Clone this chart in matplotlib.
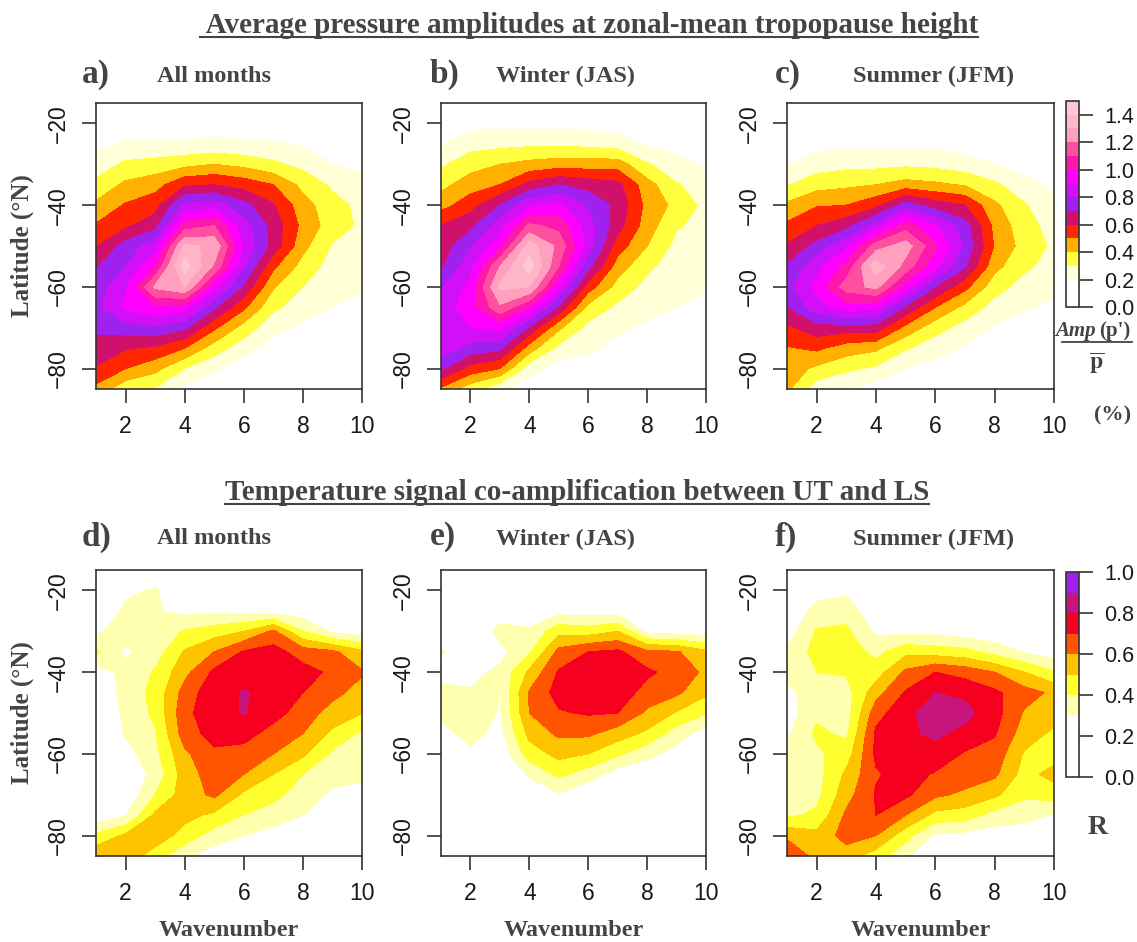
import numpy as np
import matplotlib
matplotlib.use("Agg")
import matplotlib.pyplot as plt
from matplotlib.lines import Line2D

plt.rcParams['font.family'] = ['Liberation Sans', 'DejaVu Sans']
plt.rcParams['mathtext.fontset'] = 'stix'

# grid of the fields: columns are wavenumbers, rows are latitudes
wavenumber = [1, 2, 3, 4, 5, 6, 7, 8, 9, 10]
latitude = [-15, -20, -25, -30, -35, -40, -45, -50, -55, -60, -65, -70, -75, -80, -85]

# pressure amplitude (%)
amp_all = [
    [0.10, 0.10, 0.10, 0.10, 0.10, 0.10, 0.10, 0.09, 0.08, 0.07],
    [0.13, 0.16, 0.16, 0.16, 0.16, 0.16, 0.15, 0.14, 0.12, 0.10],
    [0.17, 0.21, 0.21, 0.21, 0.22, 0.21, 0.21, 0.19, 0.16, 0.14],
    [0.24, 0.32, 0.34, 0.37, 0.40, 0.37, 0.32, 0.27, 0.20, 0.18],
    [0.33, 0.42, 0.46, 0.58, 0.60, 0.56, 0.50, 0.37, 0.28, 0.23],
    [0.42, 0.51, 0.56, 0.82, 0.85, 0.73, 0.61, 0.44, 0.34, 0.27],
    [0.51, 0.58, 0.66, 1.04, 1.10, 0.84, 0.66, 0.47, 0.35, 0.28],
    [0.59, 0.74, 0.85, 1.32, 1.28, 0.88, 0.66, 0.43, 0.29, 0.26],
    [0.69, 0.80, 1.00, 1.45, 1.18, 0.81, 0.52, 0.36, 0.26, 0.24],
    [0.74, 0.88, 1.22, 1.30, 0.93, 0.68, 0.41, 0.30, 0.24, 0.21],
    [0.77, 0.92, 0.98, 0.95, 0.72, 0.52, 0.32, 0.25, 0.20, 0.17],
    [0.72, 0.75, 0.78, 0.72, 0.52, 0.36, 0.23, 0.18, 0.15, 0.12],
    [0.66, 0.61, 0.58, 0.50, 0.35, 0.24, 0.16, 0.12, 0.10, 0.08],
    [0.59, 0.50, 0.43, 0.30, 0.22, 0.14, 0.10, 0.08, 0.07, 0.06],
    [0.47, 0.33, 0.29, 0.17, 0.13, 0.08, 0.06, 0.05, 0.05, 0.04],
]
amp_winter = [
    [0.10, 0.10, 0.10, 0.10, 0.10, 0.10, 0.09, 0.09, 0.08, 0.07],
    [0.15, 0.17, 0.17, 0.17, 0.17, 0.16, 0.15, 0.14, 0.12, 0.10],
    [0.19, 0.26, 0.27, 0.28, 0.28, 0.27, 0.25, 0.19, 0.17, 0.14],
    [0.28, 0.36, 0.40, 0.43, 0.45, 0.45, 0.45, 0.31, 0.23, 0.19],
    [0.37, 0.45, 0.50, 0.63, 0.70, 0.66, 0.63, 0.44, 0.31, 0.24],
    [0.46, 0.56, 0.70, 0.88, 0.92, 0.78, 0.67, 0.47, 0.37, 0.27],
    [0.60, 0.67, 0.85, 1.12, 1.07, 0.84, 0.64, 0.45, 0.31, 0.27],
    [0.64, 0.79, 0.97, 1.35, 1.17, 0.86, 0.55, 0.40, 0.27, 0.25],
    [0.68, 0.86, 1.20, 1.45, 1.10, 0.73, 0.45, 0.32, 0.25, 0.23],
    [0.79, 0.93, 1.32, 1.30, 0.92, 0.55, 0.36, 0.27, 0.23, 0.21],
    [0.85, 0.95, 1.18, 1.00, 0.68, 0.37, 0.28, 0.23, 0.20, 0.17],
    [0.88, 0.90, 0.93, 0.68, 0.42, 0.27, 0.22, 0.18, 0.15, 0.13],
    [0.86, 0.76, 0.72, 0.45, 0.27, 0.22, 0.17, 0.13, 0.11, 0.09],
    [0.72, 0.56, 0.50, 0.24, 0.15, 0.15, 0.11, 0.09, 0.08, 0.06],
    [0.48, 0.34, 0.22, 0.14, 0.09, 0.09, 0.07, 0.06, 0.05, 0.04],
]
amp_summer = [
    [0.08, 0.08, 0.08, 0.08, 0.08, 0.08, 0.07, 0.07, 0.06, 0.05],
    [0.11, 0.12, 0.12, 0.12, 0.12, 0.12, 0.11, 0.11, 0.09, 0.08],
    [0.15, 0.17, 0.17, 0.17, 0.17, 0.17, 0.16, 0.15, 0.13, 0.11],
    [0.19, 0.25, 0.27, 0.27, 0.28, 0.27, 0.24, 0.20, 0.17, 0.15],
    [0.29, 0.36, 0.38, 0.40, 0.44, 0.42, 0.39, 0.32, 0.23, 0.18],
    [0.42, 0.49, 0.50, 0.57, 0.75, 0.65, 0.60, 0.42, 0.31, 0.22],
    [0.52, 0.60, 0.66, 0.84, 1.05, 0.91, 0.74, 0.47, 0.34, 0.26],
    [0.61, 0.73, 0.88, 1.15, 1.25, 1.02, 0.78, 0.49, 0.36, 0.28],
    [0.71, 0.86, 1.03, 1.36, 1.16, 0.93, 0.71, 0.43, 0.32, 0.26],
    [0.76, 0.93, 1.15, 1.23, 0.95, 0.70, 0.53, 0.34, 0.26, 0.22],
    [0.69, 0.86, 0.95, 0.92, 0.68, 0.50, 0.37, 0.26, 0.21, 0.18],
    [0.58, 0.66, 0.65, 0.65, 0.47, 0.34, 0.26, 0.19, 0.16, 0.13],
    [0.49, 0.52, 0.45, 0.42, 0.31, 0.24, 0.19, 0.14, 0.11, 0.09],
    [0.45, 0.38, 0.32, 0.28, 0.20, 0.16, 0.13, 0.10, 0.08, 0.06],
    [0.42, 0.24, 0.20, 0.15, 0.12, 0.10, 0.08, 0.07, 0.05, 0.04],
]

# UT/LS temperature correlation R
r_all = [
    [0.10, 0.20, 0.22, 0.12, 0.12, 0.10, 0.10, 0.10, 0.09, 0.08],
    [0.15, 0.28, 0.31, 0.22, 0.20, 0.18, 0.18, 0.17, 0.15, 0.13],
    [0.22, 0.32, 0.31, 0.27, 0.28, 0.27, 0.26, 0.24, 0.22, 0.18],
    [0.28, 0.35, 0.33, 0.41, 0.45, 0.50, 0.62, 0.40, 0.28, 0.24],
    [0.42, 0.28, 0.35, 0.51, 0.60, 0.71, 0.74, 0.65, 0.62, 0.52],
    [0.25, 0.33, 0.41, 0.57, 0.72, 0.77, 0.78, 0.74, 0.68, 0.61],
    [0.20, 0.34, 0.43, 0.64, 0.77, 0.805, 0.78, 0.70, 0.63, 0.56],
    [0.18, 0.33, 0.42, 0.67, 0.77, 0.805, 0.74, 0.65, 0.56, 0.50],
    [0.17, 0.31, 0.39, 0.65, 0.74, 0.74, 0.66, 0.60, 0.48, 0.38],
    [0.17, 0.26, 0.37, 0.58, 0.68, 0.66, 0.60, 0.52, 0.38, 0.34],
    [0.18, 0.22, 0.33, 0.55, 0.65, 0.60, 0.50, 0.40, 0.34, 0.32],
    [0.20, 0.22, 0.40, 0.55, 0.62, 0.48, 0.43, 0.35, 0.28, 0.27],
    [0.22, 0.29, 0.52, 0.53, 0.48, 0.40, 0.35, 0.30, 0.22, 0.20],
    [0.42, 0.52, 0.56, 0.46, 0.35, 0.30, 0.26, 0.24, 0.17, 0.15],
    [0.58, 0.56, 0.45, 0.32, 0.25, 0.20, 0.18, 0.17, 0.12, 0.10],
]
r_winter = [
    [0.05, 0.05, 0.06, 0.06, 0.06, 0.06, 0.06, 0.05, 0.05, 0.04],
    [0.08, 0.09, 0.12, 0.14, 0.15, 0.15, 0.15, 0.12, 0.10, 0.09],
    [0.12, 0.14, 0.25, 0.26, 0.26, 0.25, 0.25, 0.20, 0.18, 0.16],
    [0.18, 0.20, 0.33, 0.31, 0.47, 0.45, 0.50, 0.27, 0.25, 0.24],
    [0.31, 0.24, 0.27, 0.38, 0.63, 0.70, 0.72, 0.62, 0.61, 0.52],
    [0.26, 0.27, 0.32, 0.52, 0.71, 0.76, 0.77, 0.72, 0.66, 0.58],
    [0.33, 0.31, 0.30, 0.61, 0.74, 0.76, 0.76, 0.66, 0.62, 0.52],
    [0.32, 0.36, 0.29, 0.60, 0.69, 0.71, 0.70, 0.58, 0.49, 0.41],
    [0.27, 0.33, 0.27, 0.53, 0.62, 0.62, 0.55, 0.48, 0.35, 0.25],
    [0.22, 0.28, 0.22, 0.45, 0.53, 0.50, 0.42, 0.33, 0.26, 0.20],
    [0.17, 0.22, 0.17, 0.32, 0.42, 0.35, 0.25, 0.22, 0.19, 0.15],
    [0.13, 0.17, 0.12, 0.20, 0.29, 0.22, 0.18, 0.15, 0.14, 0.11],
    [0.10, 0.12, 0.09, 0.13, 0.18, 0.14, 0.12, 0.10, 0.10, 0.08],
    [0.08, 0.09, 0.07, 0.09, 0.12, 0.10, 0.09, 0.08, 0.07, 0.06],
    [0.06, 0.07, 0.05, 0.06, 0.08, 0.07, 0.06, 0.05, 0.05, 0.04],
]
r_summer = [
    [0.10, 0.15, 0.20, 0.10, 0.08, 0.08, 0.07, 0.07, 0.06, 0.05],
    [0.15, 0.25, 0.28, 0.15, 0.12, 0.12, 0.11, 0.10, 0.09, 0.08],
    [0.20, 0.34, 0.36, 0.22, 0.18, 0.18, 0.16, 0.15, 0.13, 0.12],
    [0.25, 0.41, 0.42, 0.28, 0.27, 0.27, 0.24, 0.23, 0.20, 0.17],
    [0.31, 0.44, 0.45, 0.37, 0.47, 0.45, 0.43, 0.36, 0.29, 0.24],
    [0.33, 0.40, 0.41, 0.45, 0.62, 0.70, 0.66, 0.60, 0.50, 0.41],
    [0.27, 0.36, 0.36, 0.56, 0.71, 0.80, 0.78, 0.72, 0.64, 0.58],
    [0.25, 0.38, 0.35, 0.66, 0.77, 0.86, 0.83, 0.74, 0.59, 0.55],
    [0.28, 0.42, 0.38, 0.72, 0.78, 0.82, 0.77, 0.71, 0.55, 0.48],
    [0.33, 0.38, 0.45, 0.72, 0.76, 0.76, 0.69, 0.66, 0.49, 0.45],
    [0.35, 0.36, 0.52, 0.69, 0.74, 0.69, 0.65, 0.62, 0.46, 0.54],
    [0.35, 0.37, 0.56, 0.71, 0.72, 0.62, 0.58, 0.52, 0.42, 0.44],
    [0.38, 0.42, 0.62, 0.70, 0.60, 0.47, 0.45, 0.36, 0.34, 0.29],
    [0.58, 0.53, 0.64, 0.60, 0.44, 0.28, 0.27, 0.25, 0.24, 0.20],
    [0.68, 0.57, 0.55, 0.45, 0.32, 0.18, 0.17, 0.16, 0.16, 0.14],
]

amp_levels = [0.0, 0.2, 0.3, 0.4, 0.5, 0.6, 0.7, 0.8, 0.9, 1.0, 1.1, 1.2, 1.3, 1.4, 1.5]
amp_colors = ['#FFFFFF', '#FFFFD8', '#FFFF40', '#FFB000', '#FF2600', '#D0106A', '#A020F0',
              '#D210F8', '#FF00FF', '#FF18B0', '#FF50A0', '#FFA0BE', '#FFB6C8', '#FFC8D2']
amp_ticks = [0.0, 0.2, 0.4, 0.6, 0.8, 1.0, 1.2, 1.4]
r_levels = [0.0, 0.3, 0.4, 0.5, 0.6, 0.7, 0.8, 0.9, 1.0]
r_colors = ['#FFFFFF', '#FFFFB0', '#FFFF30', '#FFC400', '#FF5500', '#F5001E', '#C8157E', '#A020F0']
r_ticks = [0.0, 0.2, 0.4, 0.6, 0.8, 1.0]

W, H = 1137, 942
fig = plt.figure(figsize=(W / 100, H / 100), dpi=100)
ink = '#333333'
grey = '#444444'
serif = 'Liberation Serif'


def axes_px(left, top, right, bottom):
    return fig.add_axes([left / W, 1 - bottom / H, (right - left) / W, (bottom - top) / H])


def text_px(x, y, s, **kw):
    kw.setdefault('family', serif)
    kw.setdefault('weight', 'bold')
    kw.setdefault('color', grey)
    return fig.text(x / W, 1 - y / H, s, **kw)


def draw_panel(box, grid, levels, colors):
    ax = axes_px(*box)
    cs = ax.contourf(wavenumber, latitude, np.array(grid), levels=levels, colors=colors)
    ax.set_xlim(1, 10)
    ax.set_ylim(-85, -15)
    ax.set_xticks([2, 4, 6, 8, 10])
    ax.set_yticks([-20, -40, -60, -80])
    ax.set_yticklabels(['\u221220', '\u221240', '\u221260', '\u221280'], rotation=90, va='center')
    ax.tick_params(direction='out', length=10, width=1.2, color=ink,
                   labelcolor='#1a1a1a', labelsize=16.5, pad=9)
    for sp in ax.spines.values():
        sp.set_color(ink)
        sp.set_linewidth(1.2)
    return cs


def draw_colorbar(cs, box, ticks):
    cax = axes_px(*box)
    cb = fig.colorbar(cs, cax=cax, spacing='proportional', ticks=ticks)
    cb.ax.set_yticklabels(['%.1f' % t for t in ticks])
    cb.ax.tick_params(direction='out', length=10, width=1.2, color=ink,
                      labelcolor='#1a1a1a', labelsize=15.5, pad=8)
    cb.outline.set_edgecolor(ink)
    cb.outline.set_linewidth(1.2)


cols = [(96, 362), (441, 706), (787, 1054)]
top_row = (103, 389)
bottom_row = (570, 856)

amp_grids = [amp_all, amp_winter, amp_summer]
r_grids = [r_all, r_winter, r_summer]
for (l, r), g in zip(cols, amp_grids):
    cs_amp = draw_panel((l, top_row[0], r, top_row[1]), g, amp_levels, amp_colors)
for (l, r), g in zip(cols, r_grids):
    cs_r = draw_panel((l, bottom_row[0], r, bottom_row[1]), g, r_levels, r_colors)

draw_colorbar(cs_amp, (1066, 101, 1079, 307), amp_ticks)
draw_colorbar(cs_r, (1066, 572, 1079, 777), r_ticks)

# titles and panel labels
t1 = text_px(589, 33, ' Average pressure amplitudes at zonal-mean tropopause height',
             ha='center', va='baseline', size=21)
t2 = text_px(577, 500, 'Temperature signal co-amplification between UT and LS',
             ha='center', va='baseline', size=21)

letters = [['a)', 'b)', 'c)'], ['d)', 'e)', 'f)']]
seasons = ['All months', 'Winter (JAS)', 'Summer (JFM)']
letter_x = [82, 430, 775]
season_x = [157, 496, 853]
for row, yc in zip(letters, [74, 537]):
    for lab, lx, sx, season in zip(row, letter_x, season_x, seasons):
        text_px(lx, yc, lab, ha='left', va='center', size=24)
        text_px(sx, yc + 2, season, ha='left', va='center', size=17.5)

for yc in [(top_row[0] + top_row[1]) / 2, (bottom_row[0] + bottom_row[1]) / 2]:
    text_px(22, yc, 'Latitude (°N)', ha='center', va='center', rotation=90, size=18)
for l, r in cols:
    text_px((l + r) / 2, 930, 'Wavenumber', ha='center', va='center', size=17.5)

# colorbar captions
text_px(1096, 331, 'Amp', ha='right', va='center', size=15, style='italic')
text_px(1099, 331, "(p')", ha='left', va='center', size=15)
fig.add_artist(Line2D([1062 / W, 1132 / W], [1 - 342 / H, 1 - 342 / H], color=grey, lw=1.3))
text_px(1097, 363, r'$\overline{\mathbf{p}}$', ha='center', va='center', size=17)
text_px(1113, 415, '(%)', ha='center', va='center', size=16)
text_px(1098, 827, 'R', ha='center', va='center', size=20)

# underline the two headings
fig.canvas.draw()
for t, yb in [(t1, 33), (t2, 500)]:
    bb = t.get_window_extent()
    yl = 1 - (yb + 4) / H
    fig.add_artist(Line2D([bb.x0 / W, bb.x1 / W], [yl, yl], color=grey, lw=1.5))

fig.savefig('out.png', dpi=100, facecolor='white')
